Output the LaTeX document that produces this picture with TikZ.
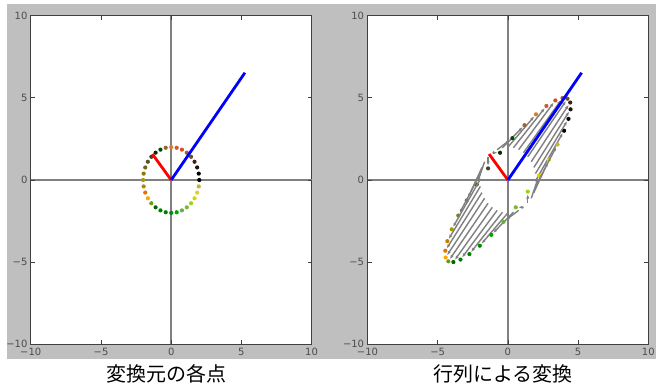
\documentclass[tikz,border=0pt]{standalone}
\usepackage{fontspec}
\newfontfamily\jpfont{Noto Sans CJK JP}
\newfontfamily\tickfont{DejaVu Sans}
\usetikzlibrary{arrows.meta}

\begin{document}
\begin{tikzpicture}[x=0.5pt,y=-0.5pt,
panel/.style = {fill=white, draw=black!75, line width=0.5pt},
zeroline/.style = {draw=gray, line width=0.8pt},
tickmark/.style = {draw=black!75, line width=0.4pt},
ticklabel/.style = {font=\tickfont\fontsize{5}{6}\selectfont, text=black!70, inner sep=0.8pt},
caption/.style = {font=\jpfont\fontsize{10}{12}\selectfont, inner sep=0pt},
dot/.style = {circle, inner sep=0pt, minimum size=2.1pt},
vec/.style = {line width=1.4pt},
move/.style = {draw=black!50, line width=0.7pt, -{Latex[length=2.2pt,width=1.6pt]}}]

\useasboundingbox (0,0) rectangle (656,388);
\fill[gray!50] (7,4) rectangle (656,359);

% frames, zero lines and ticks of both panels
\foreach \cx/\p in {171.2/L, 507.9/R} {
\begin{scope}[shift={(\cx,180)}, x=7.02pt, y=8.215pt]
  \draw[panel] (-10,-10) rectangle (10,10);
  \draw[zeroline] (-10,0) -- (10,0) (0,-10) -- (0,10);
  \foreach \v/\t [count=\k] in {-10/−10, -5/−5, 0/0, 5/5, 10/10} {
    \draw[tickmark] (\v,-10) -- ++(0,0.25) (\v,10) -- ++(0,-0.25)
                    (-10,\v) -- ++(0.29,0) (10,\v) -- ++(-0.29,0);
    \node[ticklabel, anchor=east] (\p y\k) at (-10.1,\v) {\t};
    \node[ticklabel, anchor=north] (\p x\k) at (\v,-10.1) {\t};
  }
\end{scope}
}

% left panel: points on the circle
\begin{scope}[shift={(171.2,180)}, x=7.02pt, y=8.215pt]
  \foreach \c [count=\i from 0, evaluate=\i as \a using \i*11.25] in
    {black, black, black!85!brown, black!70!brown, brown!60!black, brown!80!black,
     red!40!brown, brown!70!red, orange!30!brown, brown!80!black, green!30!black, black!80!green,
     olive!30!black, olive!50!black, olive!70!black, olive!90!black, olive!80!yellow,
     orange!50!olive, orange!90!black, orange!70!yellow, olive!60!green, green!40!black,
     green!50!black, green!50!black, green!55!black, green!65!black, yellow!40!green!80!black,
     yellow!50!green!85!black, yellow!60!green, yellow!70!olive, yellow!85!black, yellow!70!black}
    \node[dot, fill=\c] (p\i) at ({2*cos(\a)}, {2*sin(\a)}) {};
  \coordinate (Lo) at (0,0);
  \coordinate (Lr) at (-1.34,1.58);
  \coordinate (Lb) at (5.25,6.53);
  \draw[vec, red] (Lo) -- (Lr);
  \draw[vec, blue] (Lo) -- (Lb);
\end{scope}

% right panel: the same points after the matrix
\begin{scope}[shift={(507.9,180)}, x=7.02pt, y=8.215pt]
  \foreach \c [count=\i from 0, evaluate=\i as \a using \i*11.25] in
    {black, black, black!85!brown, black!70!brown, brown!60!black, brown!80!black,
     red!40!brown, brown!70!red, orange!30!brown, brown!80!black, green!30!black, black!80!green,
     olive!30!black, olive!50!black, olive!70!black, olive!90!black, olive!80!yellow,
     orange!50!olive, orange!90!black, orange!70!yellow, olive!60!green, green!40!black,
     green!50!black, green!50!black, green!55!black, green!65!black, yellow!40!green!80!black,
     yellow!50!green!85!black, yellow!60!green, yellow!70!olive, yellow!85!black, yellow!70!black}
  {
    \coordinate (s\i) at ({2*cos(\a)}, {2*sin(\a)});
    \node[dot, fill=\c] (t\i) at ({4*cos(\a)+2*sin(\a)}, {3*cos(\a)+4*sin(\a)}) {};
    \draw[move] (s\i) -- (t\i);
  }
  \coordinate (Ro) at (0,0);
  \coordinate (Rr) at (-1.34,1.58);
  \coordinate (Rb) at (5.25,6.53);
  \draw[vec, red] (Ro) -- (Rr);
  \draw[vec, blue] (Ro) -- (Rb);
\end{scope}

\node[caption] (capL) at (166,374) {変換元の各点};
\node[caption] (capR) at (503,374) {行列による変換};
\end{tikzpicture}
\end{document}
